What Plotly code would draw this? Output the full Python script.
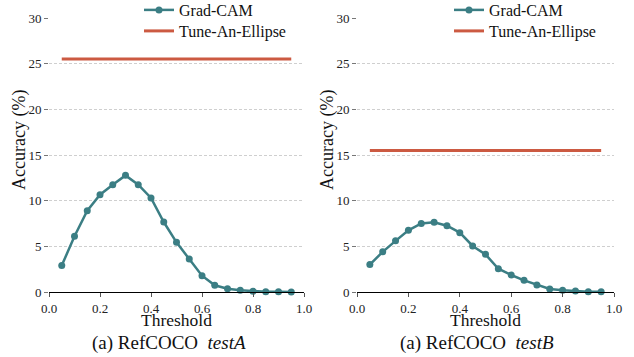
import plotly.graph_objects as go

thresholds = [0.05, 0.10, 0.15, 0.20, 0.25, 0.30, 0.35, 0.40, 0.45, 0.50,
              0.55, 0.60, 0.65, 0.70, 0.75, 0.80, 0.85, 0.90, 0.95]
gradcam_testA = [2.9, 6.1, 8.9, 10.65, 11.75, 12.77, 11.75, 10.3, 7.66, 5.44,
                 3.61, 1.79, 0.73, 0.36, 0.18, 0.07, 0.04, 0.02, 0.01]
gradcam_testB = [3.0, 4.4, 5.6, 6.75, 7.5, 7.63, 7.26, 6.5, 5.04, 4.12,
                 2.55, 1.86, 1.28, 0.77, 0.33, 0.18, 0.1, 0.04, 0.03]
ellipse_testA = [25.5, 25.5]
ellipse_testB = [15.5, 15.5]
ellipse_x = [0.05, 0.95]
y_ticks = [0, 5, 10, 15, 20, 25, 30]
x_ticks = [0.0, 0.2, 0.4, 0.6, 0.8, 1.0]
subtitles = ["(a) RefCOCO  <i>testA</i>", "(a) RefCOCO  <i>testB</i>"]

TEAL = "#3b7e84"
RED = "#cc5a42"
FONT = "Liberation Serif, Times New Roman, serif"

W, H = 634, 357


def px_x(x):
    return x / W


def px_y(y):
    return 1 - y / H


fig = go.Figure()

panels = [
    (gradcam_testA, ellipse_testA, "x", "y", "legend", "legend2"),
    (gradcam_testB, ellipse_testB, "x2", "y2", "legend3", "legend4"),
]
for g, e, xa, ya, lg1, lg2 in panels:
    fig.add_trace(go.Scatter(
        x=thresholds, y=g, mode="lines+markers", name="Grad-CAM",
        line=dict(color=TEAL, width=2.5), marker=dict(color=TEAL, size=7),
        xaxis=xa, yaxis=ya, legend=lg1, showlegend=True, cliponaxis=False))
    fig.add_trace(go.Scatter(
        x=ellipse_x, y=e, mode="lines", name="Tune-An-Ellipse",
        line=dict(color=RED, width=3),
        xaxis=xa, yaxis=ya, legend=lg2, showlegend=True, cliponaxis=False))

x_domains = [[px_x(49), px_x(304)], [px_x(357), px_x(614)]]
y_domain = [px_y(292), px_y(18)]

axis_common_x = dict(range=[0, 1], tickvals=x_ticks,
                     ticktext=[f"{v:.1f}" for v in x_ticks],
                     showgrid=False, zeroline=False, showline=True,
                     linecolor="black", linewidth=1.2, ticks="outside",
                     ticklen=4, tickcolor="#555", tickfont=dict(family=FONT, size=13, color="#222"))
axis_common_y = dict(range=[0, 30], tickvals=y_ticks, showgrid=True,
                     gridcolor="#cfcfcf", griddash="3px,2px", gridwidth=0.8,
                     zeroline=False, showline=False, ticks="outside",
                     ticklen=4, tickcolor="#777", tickfont=dict(family=FONT, size=13, color="#222"),
                     domain=y_domain)


def legend_box(xpx, ytop_px):
    return dict(x=px_x(xpx), y=px_y(ytop_px), xanchor="left", yanchor="top",
                bgcolor="rgba(0,0,0,0)", font=dict(family=FONT, size=16, color="#111"),
                tracegroupgap=0, itemwidth=30, borderwidth=0)


fig.update_layout(
    width=W, height=H,
    showlegend=True,
    margin=dict(l=0, r=0, t=0, b=0, autoexpand=False),
    paper_bgcolor="white", plot_bgcolor="white",
    font=dict(family=FONT, color="#111"),
    xaxis=dict(domain=x_domains[0], anchor="y", **axis_common_x),
    yaxis=dict(anchor="x", **axis_common_y),
    xaxis2=dict(domain=x_domains[1], anchor="y2", **axis_common_x),
    yaxis2=dict(anchor="x2", **axis_common_y),
    legend=legend_box(139, -7),
    legend2=legend_box(139, 14),
    legend3=legend_box(449, -7),
    legend4=legend_box(449, 14),
)

annotations = []
for i, xd in enumerate(x_domains):
    cx = (xd[0] + xd[1]) / 2
    annotations.append(dict(text="Threshold", x=cx, y=px_y(320), xref="paper", yref="paper",
                            showarrow=False, font=dict(family=FONT, size=17.5, color="#111"),
                            xanchor="center", yanchor="middle"))
    annotations.append(dict(text=subtitles[i], x=px_x(90 if i == 0 else 398), y=px_y(343),
                            xref="paper", yref="paper",
                            showarrow=False, font=dict(family=FONT, size=19, color="#111"),
                            xanchor="left", yanchor="middle"))
    annotations.append(dict(text="Accuracy (%)", x=px_x(20 if i == 0 else 328), y=px_y(140),
                            xref="paper", yref="paper", textangle=-90,
                            showarrow=False, font=dict(family=FONT, size=18, color="#111"),
                            xanchor="center", yanchor="middle"))
fig.update_layout(annotations=annotations)

fig.write_html("out.html", config={"displayModeBar": False},
               post_script="document.body.style.margin='0';")
